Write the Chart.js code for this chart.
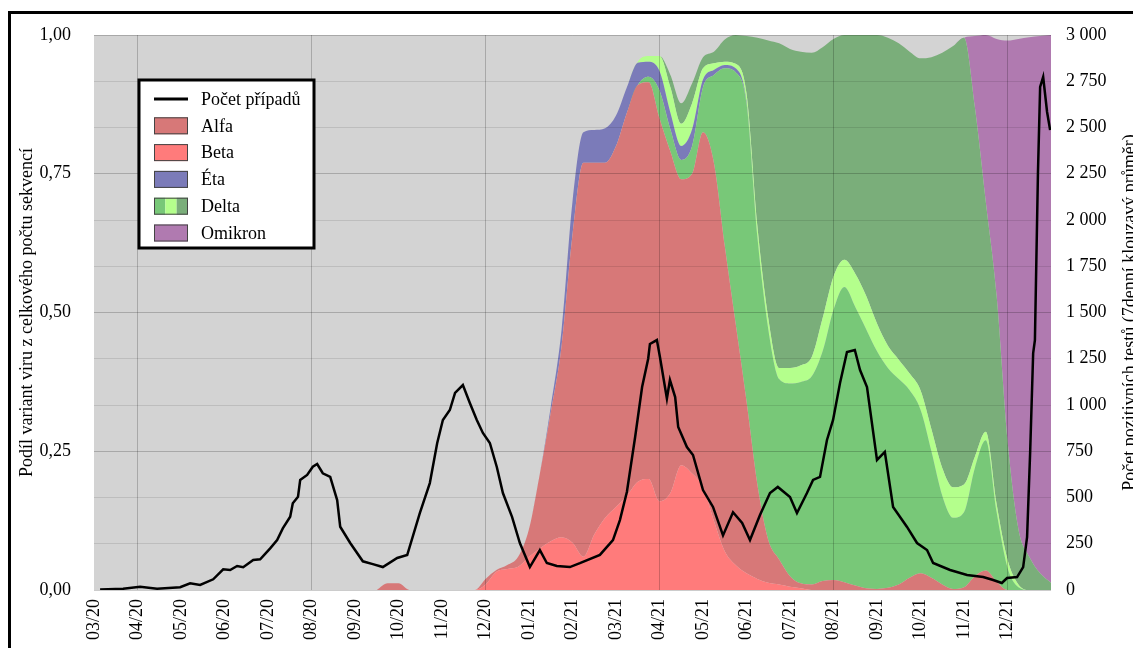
<!DOCTYPE html>
<html>
<head>
<meta charset="utf-8">
<script src="https://cdn.jsdelivr.net/npm/chart.js@4.4.0/dist/chart.umd.min.js"></script>
<style>
  html, body { margin: 0; padding: 0; background: #fff; overflow: hidden; }
  #frame { position: absolute; left: 8px; top: 11px; width: 1180px; height: 690px; border: 3px solid #000; background: #fff; }
  #frame canvas { display: block; }
</style>
</head>
<body>
<div id="frame"><canvas id="myChart" width="1180" height="690"></canvas></div>
<script>
// month labels, index 0 = 03/20
const monthLabels = ['03/20', '04/20', '05/20', '06/20', '07/20', '08/20', '09/20', '10/20', '11/20', '12/20',
    '01/21', '02/21', '03/21', '04/21', '05/21', '06/21', '07/21', '08/21', '09/21', '10/21', '11/21', '12/21'];
const leftTickLabels = ['0,00', '0,25', '0,50', '0,75', '1,00'];
const rightTickLabels = ['0', '250', '500', '750', '1 000', '1 250', '1 500', '1 750', '2 000', '2 250', '2 500', '2 750', '3 000'];

// variant shares (month index)
const variantMonths = [6.5, 6.75, 7, 7.25, 8.75, 9, 9.25, 9.5, 9.75, 10, 10.25, 10.5, 10.75, 11, 11.25, 11.5, 11.75,
    12, 12.25, 12.5, 12.75, 13, 13.25, 13.5, 13.75, 14, 14.25, 14.5, 14.75, 15, 15.25, 15.5, 15.75,
    16, 16.25, 16.5, 16.75, 17, 17.25, 17.5, 17.75, 18, 18.25, 18.5, 18.75, 19, 19.25, 19.5, 19.75,
    20, 20.25, 20.5, 20.75, 21, 21.25, 21.5, 21.75, 22];

const beta = [0, 0, 0, 0, 0, 0.01, 0.033, 0.038, 0.042, 0.06, 0.075, 0.088, 0.095, 0.085, 0.06, 0.1, 0.13,
    0.15, 0.17, 0.195, 0.2, 0.16, 0.175, 0.225, 0.21, 0.185, 0.125, 0.07, 0.045, 0.03, 0.02, 0.013, 0.01,
    0.006, 0.003, 0, 0, 0, 0, 0, 0, 0, 0, 0, 0, 0, 0, 0, 0,
    0, 0, 0, 0, 0, 0, 0, 0, 0];

const alfa = [0, 0.012, 0.012, 0, 0, 0.01, 0.003, 0.007, 0.018, 0.05, 0.135, 0.232, 0.345, 0.555, 0.71, 0.67, 0.64,
    0.65, 0.69, 0.715, 0.715, 0.69, 0.615, 0.515, 0.54, 0.64, 0.645, 0.55, 0.435, 0.31, 0.17, 0.077, 0.045,
    0.019, 0.009, 0.01, 0.016, 0.018, 0.014, 0.008, 0.003, 0.002, 0.004, 0.01, 0.022, 0.03, 0.022, 0.01, 0.002,
    0.005, 0.025, 0.035, 0.015, 0, 0, 0, 0, 0];

const deltaA = [0, 0, 0, 0, 0, 0, 0, 0, 0, 0, 0, 0, 0, 0, 0, 0, 0,
    0, 0, 0, 0.01, 0.05, 0.04, 0.035, 0.05, 0.081, 0.158, 0.32, 0.453, 0.537, 0.446, 0.38, 0.325,
    0.347, 0.363, 0.375, 0.414, 0.487, 0.532, 0.502, 0.467, 0.428, 0.396, 0.37, 0.338, 0.295, 0.228, 0.16, 0.128,
    0.135, 0.195, 0.235, 0.125, 0.04, 0.005, 0, 0, 0];

const eta = [0, 0, 0, 0, 0, 0, 0, 0, 0, 0, 0, 0.01, 0.03, 0.06, 0.055, 0.059, 0.062,
    0.055, 0.046, 0.04, 0.027, 0.035, 0.03, 0.025, 0.03, 0.014, 0.009, 0.006, 0.007, 0.003, 0, 0, 0,
    0, 0, 0, 0, 0, 0, 0, 0, 0, 0, 0, 0, 0, 0, 0, 0,
    0, 0, 0, 0, 0, 0, 0, 0, 0];

const deltaB = [0, 0, 0, 0, 0, 0, 0, 0, 0, 0, 0, 0, 0, 0, 0, 0, 0,
    0, 0, 0.002, 0.01, 0.027, 0.046, 0.04, 0.047, 0.02, 0.012, 0.006, 0.008, 0.015, 0.02, 0.02, 0.02,
    0.028, 0.03, 0.035, 0.06, 0.06, 0.049, 0.06, 0.06, 0.05, 0.04, 0.035, 0.03, 0.035, 0.04, 0.05, 0.055,
    0.05, 0.02, 0.015, 0.015, 0.015, 0.005, 0, 0, 0];

const deltaC = [0, 0, 0, 0, 0, 0, 0, 0, 0, 0, 0, 0, 0, 0, 0, 0, 0,
    0, 0, 0, 0, 0, 0.022, 0.037, 0.036, 0.02, 0.021, 0.04, 0.052, 0.103, 0.339, 0.5, 0.585,
    0.575, 0.565, 0.548, 0.488, 0.428, 0.405, 0.43, 0.47, 0.52, 0.555, 0.57, 0.58, 0.598, 0.67, 0.748, 0.795,
    0.805, 0.63, 0.415, 0.375, 0.215, 0.1, 0.06, 0.03, 0.013];

const omikron = [0, 0, 0, 0, 0, 0, 0, 0, 0, 0, 0, 0, 0, 0, 0, 0, 0,
    0, 0, 0, 0, 0, 0, 0, 0, 0, 0, 0, 0, 0, 0, 0, 0,
    0, 0, 0, 0, 0, 0, 0, 0, 0, 0, 0, 0, 0, 0, 0, 0,
    0, 0.128, 0.3, 0.463, 0.72, 0.883, 0.936, 0.968, 0.987];

// cases, 7-day average
const casesMonths = [0.14, 0.67, 1.06, 1.45, 1.98, 2.21, 2.44, 2.74, 2.97, 3.13, 3.29, 3.43, 3.66, 3.82, 4.05, 4.21,
    4.34, 4.51, 4.57, 4.69, 4.74, 4.90, 5.03, 5.13, 5.26, 5.43, 5.59, 5.66, 5.89, 6.18, 6.41, 6.64, 6.97, 7.20,
    7.49, 7.72, 7.89, 8.02, 8.18, 8.30, 8.48, 8.64, 8.80, 8.94, 9.10, 9.26, 9.40, 9.61, 9.79, 10.02, 10.25, 10.41,
    10.64, 10.94, 11.17, 11.63, 11.93, 12.09, 12.25, 12.44, 12.60, 12.74, 12.78, 12.94, 13.01, 13.17, 13.24, 13.36,
    13.43, 13.63, 13.77, 14.00, 14.23, 14.46, 14.69, 14.90, 15.08, 15.31, 15.54, 15.72, 16.00, 16.16, 16.39, 16.53,
    16.69, 16.85, 16.99, 17.15, 17.31, 17.49, 17.61, 17.77, 18.00, 18.18, 18.37, 18.69, 18.92, 19.15, 19.29, 19.68,
    20.07, 20.44, 20.67, 20.87, 20.99, 21.22, 21.36, 21.45, 21.52, 21.59, 21.63, 21.70, 21.75, 21.82, 21.91, 21.98];
const cases = [3, 7, 18, 7, 15, 36, 27, 58, 112, 108, 130, 123, 162, 166, 225, 270,
    333, 396, 469, 504, 595, 622, 666, 681, 631, 612, 486, 342, 254, 155, 140, 124, 173, 189,
    416, 578, 795, 919, 973, 1065, 1108, 1011, 919, 849, 795, 665, 524, 395, 254, 124, 216, 146,
    130, 124, 145, 190, 270, 378, 530, 827, 1097, 1250, 1330, 1351, 1259, 1035, 1135, 1043,
    881, 773, 730, 540, 449, 295, 420, 362, 270, 405, 524, 557, 503, 416, 524, 595,
    611, 811, 919, 1119, 1286, 1297, 1189, 1097, 703, 746, 449, 341, 254, 216, 146, 108,
    81, 70, 54, 38, 65, 70, 124, 286, 740, 1281, 1351, 2254, 2719, 2773, 2584, 2486];

const serif = "'Liberation Serif', 'Times New Roman', serif";
Chart.defaults.font.family = serif;
Chart.defaults.color = '#000';

const toPoints = (xs, ys) => xs.map((x, i) => ({ x: x, y: ys[i] }));

const area = (label, values, color, fill) => ({
    label: label,
    data: toPoints(variantMonths, values),
    yAxisID: 'y',
    backgroundColor: color,
    borderWidth: 0,
    fill: fill,
    cubicInterpolationMode: 'monotone',
    pointRadius: 0
});

const legendItems = [
    { type: 'line', text: 'Počet případů' },
    { type: 'box', text: 'Alfa', colors: ['#d77878'] },
    { type: 'box', text: 'Beta', colors: ['#ff7b7b'] },
    { type: 'box', text: 'Éta', colors: ['#7b7bb9'] },
    { type: 'box', text: 'Delta', colors: ['#78c878', '#b4ff8c', '#7aae7a'] },
    { type: 'box', text: 'Omikron', colors: ['#b07ab0'] }
];

// gray plot background
const bgPlugin = {
    id: 'bg',
    beforeDraw(chart) {
        const a = chart.chartArea;
        const c = chart.ctx;
        c.save();
        c.fillStyle = '#d3d3d3';
        c.fillRect(a.left, a.top, a.right - a.left, a.bottom - a.top);
        c.restore();
    }
};

// boxed legend inside the plot + right axis title
const extrasPlugin = {
    id: 'extras',
    afterDraw(chart) {
        const a = chart.chartArea;
        const c = chart.ctx;
        c.save();
        // right title, reading bottom to top
        c.translate(1119, (a.top + a.bottom) / 2);
        c.rotate(-Math.PI / 2);
        c.font = '18px ' + serif;
        c.fillStyle = '#000';
        c.textAlign = 'center';
        c.textBaseline = 'middle';
        c.fillText('Počet pozitivních testů (7denní klouzavý průměr)', 0, 0);
        c.restore();

        const bx = a.left + 45, by = a.top + 45, bw = 175, bh = 168;
        c.save();
        c.fillStyle = '#fff';
        c.fillRect(bx, by, bw, bh);
        c.lineWidth = 3;
        c.strokeStyle = '#000';
        c.strokeRect(bx, by, bw, bh);
        c.font = '18px ' + serif;
        c.textBaseline = 'middle';
        legendItems.forEach((item, i) => {
            const cy = by + 19 + i * 26.8;
            if (item.type === 'line') {
                c.lineWidth = 3;
                c.strokeStyle = '#000';
                c.beginPath();
                c.moveTo(bx + 15, cy);
                c.lineTo(bx + 49, cy);
                c.stroke();
            } else {
                const w = 34 / item.colors.length;
                item.colors.forEach((col, k) => {
                    c.fillStyle = col;
                    c.fillRect(bx + 15 + k * w, cy - 8.5, w, 17);
                });
                c.lineWidth = 1;
                c.strokeStyle = '#444';
                c.strokeRect(bx + 15.5, cy - 8, 33, 16);
            }
            c.fillStyle = '#000';
            c.fillText(item.text, bx + 62, cy + 1);
        });
        c.restore();
    }
};

const ctx = document.getElementById('myChart');
const config = {
    type: 'line',
    data: {
        datasets: [
            {
                label: 'Počet případů',
                data: toPoints(casesMonths, cases),
                yAxisID: 'y2',
                borderColor: '#000',
                borderWidth: 2.5,
                tension: 0,
                fill: false,
                pointRadius: 0
            },
            area('Beta', beta, '#ff7b7b', 'origin'),
            area('Alfa', alfa, '#d77878', '-1'),
            area('Delta', deltaA, '#78c878', '-1'),
            area('Éta', eta, '#7b7bb9', '-1'),
            area('Delta 2', deltaB, '#b4ff8c', '-1'),
            area('Delta 3', deltaC, '#7aae7a', '-1'),
            area('Omikron', omikron, '#b07ab0', '-1')
        ]
    },
    options: {
        responsive: false,
        animation: false,
        layout: { padding: { top: 21, left: 0, right: 0, bottom: 0 } },
        plugins: {
            legend: { display: false },
            tooltip: { enabled: false }
        },
        scales: {
            x: {
                type: 'linear',
                min: 0,
                max: 22,
                border: { display: false },
                grid: {
                    z: 1,
                    drawTicks: false,
                    color: (c) => (c.tick && Math.round(c.tick.value) % 4 === 1) ? 'rgba(0,0,0,0.2)' : 'rgba(0,0,0,0)'
                },
                ticks: {
                    stepSize: 1,
                    autoSkip: false,
                    maxRotation: 90,
                    minRotation: 90,
                    padding: 9,
                    font: { size: 18 },
                    callback: (v) => monthLabels[Math.round(v)] || ''
                },
                afterFit(scale) { scale.height = 114; }
            },
            y: {
                position: 'left',
                stacked: true,
                min: 0,
                max: 1,
                border: { display: false },
                grid: { display: false },
                ticks: {
                    stepSize: 0.25,
                    padding: 15,
                    font: { size: 18 },
                    callback: (v) => leftTickLabels[Math.round(v * 4)]
                },
                title: {
                    display: true,
                    text: 'Podíl variant viru z celkového počtu sekvencí',
                    font: { size: 18 },
                    padding: { top: 5, bottom: 0 }
                },
                afterFit(scale) {
                    scale.width = 83;
                    scale.paddingTop = 0;
                    scale.paddingBottom = 0;
                }
            },
            y2: {
                position: 'right',
                min: 0,
                max: 3000,
                border: { display: false },
                grid: {
                    z: 1,
                    drawTicks: false,
                    color: (c) => (c.tick && c.tick.value % 750 === 0) ? 'rgba(0,0,0,0.2)' : 'rgba(0,0,0,0.1)'
                },
                ticks: {
                    stepSize: 250,
                    padding: 15,
                    font: { size: 18 },
                    callback: (v) => rightTickLabels[Math.round(v / 250)]
                },
                afterFit(scale) {
                    scale.width = 140;
                    scale.paddingTop = 0;
                    scale.paddingBottom = 0;
                }
            }
        }
    },
    plugins: [bgPlugin, extrasPlugin]
};

const chart = new Chart(ctx, config);
</script>
</body>
</html>
